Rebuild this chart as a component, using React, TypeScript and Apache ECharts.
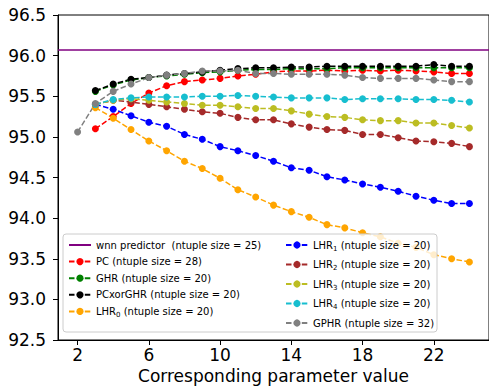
import React, { useEffect, useRef } from "react";
import * as echarts from "echarts";

const xsMain = [3, 4, 5, 6, 7, 8, 9, 10, 11, 12, 13, 14, 15, 16, 17, 18, 19, 20, 21, 22, 23, 24];
const xsGphr = [2, 3, 4, 5, 6, 7, 8, 9, 10, 11, 12, 13, 14, 15, 16, 17, 18, 19, 20, 21, 22, 23, 24];
const xTicks = [2, 6, 10, 14, 18, 22];

const wnnValue = 96.07;
const pc = [95.10, 95.25, 95.41, 95.54, 95.63, 95.68, 95.70, 95.72, 95.75, 95.77, 95.80, 95.81, 95.81, 95.82, 95.81, 95.82, 95.81, 95.82, 95.81, 95.80, 95.78, 95.78];
const ghr = [95.56, 95.64, 95.70, 95.73, 95.75, 95.77, 95.79, 95.80, 95.82, 95.83, 95.83, 95.84, 95.84, 95.84, 95.85, 95.85, 95.85, 95.85, 95.85, 95.85, 95.85, 95.85];
const pcxorghr = [95.57, 95.65, 95.71, 95.73, 95.76, 95.78, 95.80, 95.82, 95.84, 95.85, 95.85, 95.86, 95.86, 95.87, 95.87, 95.87, 95.87, 95.87, 95.87, 95.89, 95.87, 95.87];
const lhr0 = [95.36, 95.23, 95.09, 94.95, 94.83, 94.70, 94.61, 94.49, 94.35, 94.26, 94.16, 94.08, 94.01, 93.92, 93.88, 93.82, 93.77, 93.69, 93.64, 93.55, 93.50, 93.46];
const lhr1 = [95.40, 95.34, 95.26, 95.18, 95.13, 95.03, 94.97, 94.88, 94.83, 94.77, 94.70, 94.62, 94.59, 94.51, 94.47, 94.42, 94.38, 94.33, 94.27, 94.22, 94.18, 94.18];
const lhr2 = [95.40, 95.45, 95.43, 95.40, 95.37, 95.34, 95.31, 95.29, 95.24, 95.21, 95.21, 95.16, 95.12, 95.09, 95.08, 95.03, 95.03, 94.99, 94.95, 94.94, 94.92, 94.88];
const lhr3 = [95.40, 95.45, 95.47, 95.45, 95.43, 95.41, 95.39, 95.39, 95.37, 95.35, 95.35, 95.32, 95.28, 95.25, 95.24, 95.21, 95.20, 95.20, 95.17, 95.17, 95.14, 95.11];
const lhr4 = [95.40, 95.46, 95.48, 95.49, 95.49, 95.49, 95.50, 95.50, 95.51, 95.50, 95.49, 95.48, 95.48, 95.48, 95.46, 95.47, 95.47, 95.47, 95.46, 95.46, 95.45, 95.43];
const gphr = [95.06, 95.41, 95.56, 95.65, 95.73, 95.76, 95.78, 95.81, 95.81, 95.82, 95.78, 95.78, 95.77, 95.77, 95.77, 95.76, 95.73, 95.72, 95.72, 95.72, 95.70, 95.68, 95.68];

const names = {
  wnn: "wnn predictor  (ntuple size = 25)",
  pc: "PC (ntuple size = 28)",
  ghr: "GHR (ntuple size = 20)",
  pcx: "PCxorGHR (ntuple size = 20)",
  l0: "LHR0 (ntuple size = 20)",
  l1: "LHR1 (ntuple size = 20)",
  l2: "LHR2 (ntuple size = 20)",
  l3: "LHR3 (ntuple size = 20)",
  l4: "LHR4 (ntuple size = 20)",
  gp: "GPHR (ntuple size = 32)",
};

const FONT = "DejaVu Sans";

function pts(xs: number[], ys: number[]) {
  return xs.map((x, i) => [x, ys[i]]);
}

function lineSeries(name: string, color: string, data: number[][]) {
  return {
    type: "line",
    name,
    data,
    symbol: "circle",
    symbolSize: 7,
    itemStyle: { color },
    lineStyle: { color, width: 1.5, type: [5.5, 2.4] },
  };
}

export default function App() {
  const ref = useRef<HTMLDivElement>(null);
  useEffect(() => {
    if (!ref.current) return;
    const chart = echarts.init(ref.current, null, { renderer: "svg" });
    const legendFormatter = (name: string) => {
      const m = name.match(/^LHR(\d)(.*)$/);
      if (m) return `{n|LHR}{s|${m[1]}}{n|${m[2]}}`;
      return `{n|${name}}`;
    };
    const legendText = {
      rich: {
        n: { fontSize: 10, fontFamily: FONT, color: "#000", lineHeight: 14 },
        s: { fontSize: 7, fontFamily: FONT, color: "#000", lineHeight: 6, verticalAlign: "bottom" },
      },
    };
    chart.setOption({
      animation: false,
      grid: {
        left: 58,
        top: 15,
        bottom: 52,
        right: -2,
        show: true,
        borderColor: "#000",
        borderWidth: 1,
        backgroundColor: "transparent",
      },
      xAxis: {
        type: "value",
        min: 0.9,
        max: 25.1,
        name: "Corresponding parameter value",
        nameLocation: "middle",
        nameGap: 26,
        nameTextStyle: { fontSize: 17, fontFamily: FONT, color: "#000" },
        axisLine: { show: true, lineStyle: { color: "#000", width: 1 } },
        axisTick: { show: true, length: 5, lineStyle: { color: "#000" }, customValues: xTicks },
        axisLabel: { fontSize: 17, fontFamily: FONT, color: "#000", margin: 6, customValues: xTicks },
        splitLine: { show: false },
      },
      yAxis: {
        type: "value",
        min: 92.5,
        max: 96.5,
        interval: 0.5,
        axisLine: { show: true, lineStyle: { color: "#000", width: 1 } },
        axisTick: { show: true, length: 5, lineStyle: { color: "#000" } },
        axisLabel: {
          fontSize: 17,
          fontFamily: FONT,
          color: "#000",
          margin: 12,
          formatter: (v: number) => v.toFixed(1),
        },
        splitLine: { show: false },
      },
      legend: [
        {
          data: [
            { name: names.wnn, itemStyle: { opacity: 0 } },
            names.pc,
            names.ghr,
            names.pcx,
            names.l0,
          ],
          orient: "vertical",
          left: 68,
          top: 240,
          padding: 0,
          itemWidth: 22,
          itemHeight: 9,
          itemGap: 6.6,
          formatter: legendFormatter,
          textStyle: legendText,
          z: 10,
        },
        {
          data: [names.l1, names.l2, names.l3, names.l4, names.gp],
          orient: "vertical",
          left: 285,
          top: 240,
          padding: 0,
          itemWidth: 22,
          itemHeight: 9,
          itemGap: 7.5,
          formatter: legendFormatter,
          textStyle: legendText,
          z: 10,
        },
      ],
      graphic: [
        {
          type: "rect",
          z: 5,
          shape: { x: 63, y: 234, width: 374, height: 98, r: 3 },
          style: { fill: "rgba(255,255,255,0.8)", stroke: "#cccccc", lineWidth: 1 },
          silent: true,
        },
      ],
      series: [
        {
          type: "line",
          name: names.wnn,
          data: [],
          symbol: "none",
          itemStyle: { color: "#800080" },
          lineStyle: { color: "#800080", width: 1.5, type: "solid" },
          markLine: {
            silent: true,
            symbol: ["none", "none"],
            label: { show: false },
            lineStyle: { color: "#800080", width: 1.5, type: "solid" },
            data: [{ yAxis: wnnValue }],
          },
        },
        lineSeries(names.pc, "#ff0000", pts(xsMain, pc)),
        lineSeries(names.ghr, "#008000", pts(xsMain, ghr)),
        lineSeries(names.pcx, "#000000", pts(xsMain, pcxorghr)),
        lineSeries(names.l0, "#ffa500", pts(xsMain, lhr0)),
        lineSeries(names.l1, "#0000ff", pts(xsMain, lhr1)),
        lineSeries(names.l2, "#a52a2a", pts(xsMain, lhr2)),
        lineSeries(names.l3, "#bcbd22", pts(xsMain, lhr3)),
        lineSeries(names.l4, "#17becf", pts(xsMain, lhr4)),
        lineSeries(names.gp, "#808080", pts(xsGphr, gphr)),
      ],
    });
    return () => chart.dispose();
  }, []);
  return (
    <div
      ref={ref}
      style={{ position: "fixed", left: 0, top: 0, width: 489, height: 392, background: "#fff" }}
    />
  );
}
